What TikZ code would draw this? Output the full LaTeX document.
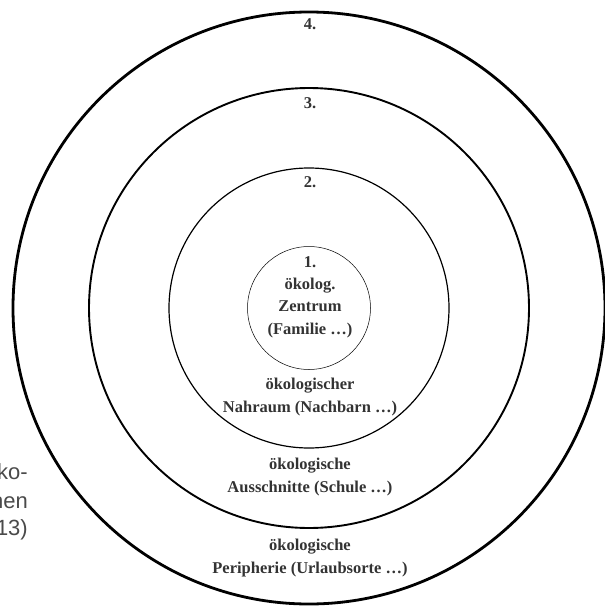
\documentclass[tikz,border=0pt]{standalone}
\usepackage{fontspec}
\setmainfont{Liberation Serif}
\newfontfamily\sidefont{Liberation Sans}
\definecolor{txt}{HTML}{333333}
\definecolor{sidetxt}{HTML}{4A4A4A}
\begin{document}
\begin{tikzpicture}[x=1pt,y=-1pt,
  lbl/.style={font=\fontsize{16.5}{22.3}\selectfont\bfseries, text=txt, align=center, inner sep=0pt},
  sidelbl/.style={font=\sidefont\fontsize{22}{29}\selectfont, text=sidetxt, anchor=east, inner sep=0pt}]
\useasboundingbox (0,0) rectangle (605,608);
\coordinate (c) at (309,308);
\draw[line width=2.8pt] (c) circle[radius=296];
\draw[line width=1.9pt] (c) circle[radius=220];
\draw[line width=1.2pt] (c) circle[radius=140];
\draw[line width=0.5pt] (c) circle[radius=61.5];
\node[lbl] (n4) at (310,24) {4.};
\node[lbl] (n3) at (310,103) {3.};
\node[lbl] (n2) at (310,182) {2.};
\node[lbl] (n1) at (310,297) {1.\\ökolog.\\Zentrum\\(Familie …)};
\node[lbl] (nah) at (310,397) {ökologischer\\Nahraum (Nachbarn …)};
\node[lbl] (aus) at (310,477) {ökologische\\Ausschnitte (Schule …)};
\node[lbl] (per) at (310,558) {ökologische\\Peripherie (Urlaubsorte …)};
\node[sidelbl] (s1) at (28,472) {ko-};
\node[sidelbl] (s2) at (28,501) {hen};
\node[sidelbl] (s3) at (28,530) {13)};
\end{tikzpicture}
\end{document}
